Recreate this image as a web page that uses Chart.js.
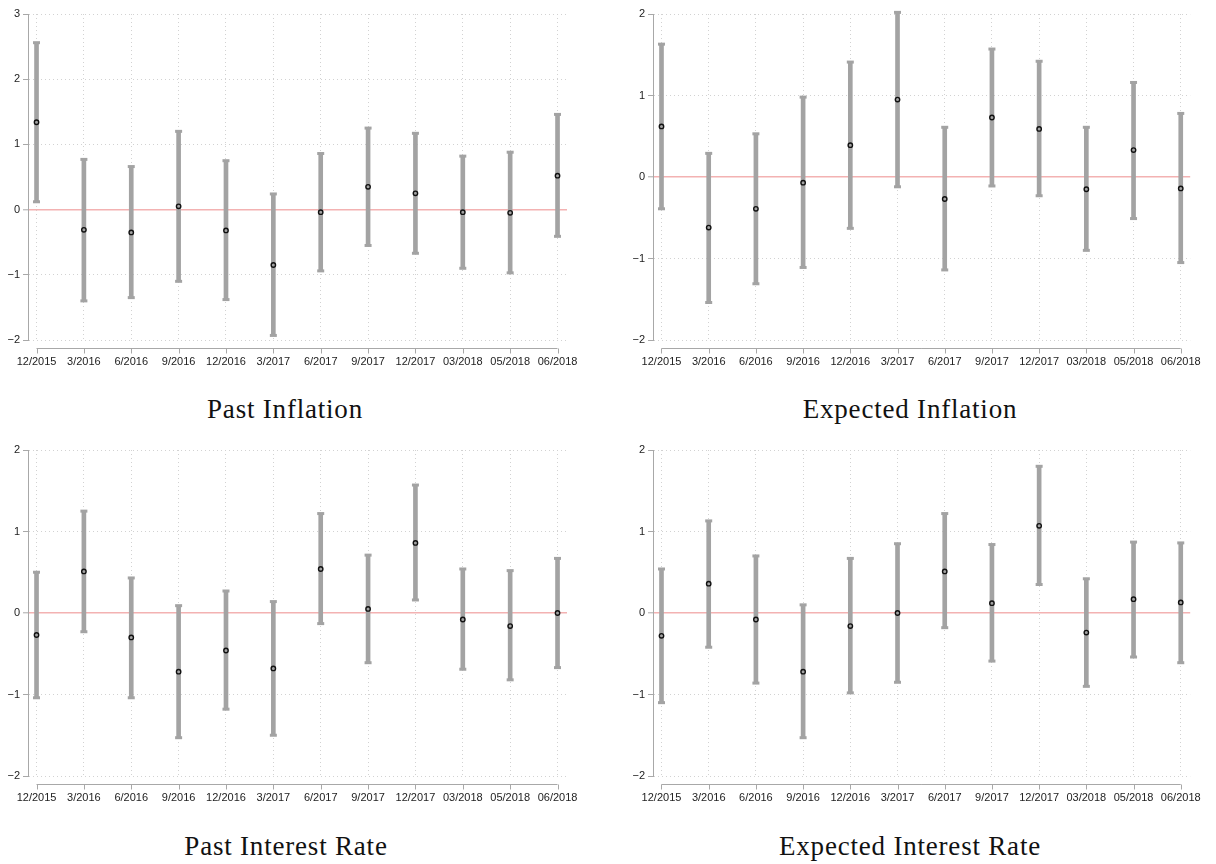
<!DOCTYPE html>
<html>
<head>
<meta charset="utf-8">
<script src="https://cdn.jsdelivr.net/npm/chart.js@4.4.1/dist/chart.umd.min.js"></script>
<style>
  body { margin: 0; background: #fff; }
  #wrap { position: relative; width: 1216px; height: 864px; overflow: hidden; }
  .panel { position: absolute; width: 608px; height: 372px; }
  .ttl { position: absolute; width: 500px; text-align: center; font-family: "Liberation Serif", serif;
         font-size: 27px; line-height: 27px; letter-spacing: 0.8px; color: #111; }
</style>
</head>
<body>
<div id="wrap">
  <div class="panel" style="left:0;top:0"><canvas id="c1"></canvas></div>
  <div class="panel" style="left:608px;top:0"><canvas id="c2"></canvas></div>
  <div class="panel" style="left:0;top:436px"><canvas id="c3"></canvas></div>
  <div class="panel" style="left:608px;top:436px"><canvas id="c4"></canvas></div>
  <div class="ttl" style="left:35px;top:396px">Past Inflation</div>
  <div class="ttl" style="left:660px;top:396px">Expected Inflation</div>
  <div class="ttl" style="left:36px;top:833px">Past Interest Rate</div>
  <div class="ttl" style="left:660px;top:833px">Expected Interest Rate</div>
</div>
<script>
var categories = ["12/2015", "3/2016", "6/2016", "9/2016", "12/2016", "3/2017",
                  "6/2017", "9/2017", "12/2017", "03/2018", "05/2018", "06/2018"];

// Past Inflation
var pastInfl      = [1.34, -0.31, -0.35, 0.05, -0.32, -0.85, -0.04, 0.35, 0.25, -0.04, -0.05, 0.52];
var pastInflLow   = [0.12, -1.40, -1.35, -1.10, -1.38, -1.93, -0.94, -0.55, -0.67, -0.90, -0.97, -0.41];
var pastInflHigh  = [2.56, 0.77, 0.66, 1.20, 0.75, 0.24, 0.86, 1.25, 1.17, 0.82, 0.88, 1.46];

// Expected Inflation
var expInfl       = [0.62, -0.62, -0.39, -0.07, 0.39, 0.95, -0.27, 0.73, 0.59, -0.15, 0.33, -0.14];
var expInflLow    = [-0.39, -1.54, -1.31, -1.11, -0.63, -0.12, -1.14, -0.11, -0.23, -0.90, -0.51, -1.05];
var expInflHigh   = [1.63, 0.29, 0.53, 0.98, 1.41, 2.02, 0.61, 1.57, 1.42, 0.61, 1.16, 0.78];

// Past Interest Rate
var pastRate      = [-0.27, 0.51, -0.30, -0.72, -0.46, -0.68, 0.54, 0.05, 0.86, -0.08, -0.16, 0.00];
var pastRateLow   = [-1.04, -0.23, -1.04, -1.53, -1.18, -1.50, -0.13, -0.61, 0.16, -0.69, -0.82, -0.67];
var pastRateHigh  = [0.50, 1.25, 0.43, 0.09, 0.27, 0.14, 1.22, 0.71, 1.57, 0.54, 0.52, 0.67];

// Expected Interest Rate
var expRate       = [-0.28, 0.36, -0.08, -0.72, -0.16, 0.00, 0.51, 0.12, 1.07, -0.24, 0.17, 0.13];
var expRateLow    = [-1.10, -0.42, -0.86, -1.53, -0.98, -0.85, -0.18, -0.59, 0.35, -0.90, -0.54, -0.61];
var expRateHigh   = [0.54, 1.13, 0.70, 0.10, 0.67, 0.85, 1.22, 0.84, 1.80, 0.42, 0.87, 0.86];

var yTicks3 = [-2, -1, 0, 1, 2, 3];
var yTicks2 = [-2, -1, 0, 1, 2];

var barGrey = '#a3a3a3';
var gridGrey = '#d2d2d2';
var zeroRed = '#f3b2b2';

// stata-like x axis: line only between first and last category, with tick marks
var stataXAxis = {
    id: 'stataXAxis',
    afterDraw: function (chart) {
        var ctx = chart.ctx, xs = chart.scales.x;
        var yl = Math.round(chart.chartArea.bottom) + 8.5;
        var x0 = xs.getPixelForValue(0), x1 = xs.getPixelForValue(categories.length - 1);
        ctx.save();
        ctx.strokeStyle = '#a8a8a8';
        ctx.lineWidth = 1;
        ctx.beginPath();
        ctx.moveTo(x0, yl);
        ctx.lineTo(x1, yl);
        for (var i = 0; i < categories.length; i++) {
            var px = Math.round(xs.getPixelForValue(i)) + 0.5;
            ctx.moveTo(px, yl);
            ctx.lineTo(px, yl + 5);
        }
        ctx.stroke();
        ctx.restore();
    }
};

function isZero(c) { return c.tick && c.tick.value === 0; }

function makePanel(id, mid, low, high, yTicks, padLeft, padRight) {
    var bars = [], caps = [], pts = [];
    for (var i = 0; i < categories.length; i++) {
        bars.push({x: i, y: [low[i], high[i]]});
        caps.push({x: i, y: low[i]});
        caps.push({x: i, y: high[i]});
        pts.push({x: i, y: mid[i]});
    }
    var ctx = document.getElementById(id).getContext('2d');
    return new Chart(ctx, {
        type: 'scatter',
        data: {
            datasets: [{
                type: 'bar',
                data: bars,
                backgroundColor: barGrey,
                borderWidth: 0,
                barThickness: 4,
                clip: false,
                order: 2
            }, {
                data: caps,
                pointStyle: 'line',
                pointRadius: 3.5,
                borderWidth: 3,
                borderColor: barGrey,
                pointHoverRadius: 3.5,
                clip: false,
                order: 1
            }, {
                data: pts,
                pointStyle: 'circle',
                pointRadius: 2.2,
                borderWidth: 1.4,
                borderColor: '#111',
                backgroundColor: barGrey,
                clip: false,
                order: 0
            }]
        },
        options: {
            responsive: false,
            animation: false,
            events: [],
            layout: {padding: {left: padLeft, right: padRight, top: 14, bottom: 0}},
            plugins: {legend: {display: false}, tooltip: {enabled: false}},
            scales: {
                x: {
                    type: 'linear',
                    min: -0.18,
                    max: 11.2,
                    offset: false,
                    afterBuildTicks: function (s) {
                        s.ticks = categories.map(function (c, i) { return {value: i}; });
                    },
                    afterFit: function (s) { s.height = 32; },
                    ticks: {
                        autoSkip: false,
                        maxRotation: 0,
                        padding: 15,
                        color: '#222',
                        font: {family: 'Liberation Sans', size: 11},
                        callback: function (v) { return categories[v]; }
                    },
                    grid: {color: gridGrey, drawTicks: false, offset: false},
                    border: {display: false, dash: [1, 3]}
                },
                y: {
                    min: yTicks[0],
                    max: yTicks[yTicks.length - 1],
                    afterBuildTicks: function (s) {
                        s.ticks = yTicks.map(function (v) { return {value: v}; });
                    },
                    afterFit: function (s) { s.width = 28; },
                    ticks: {
                        padding: 3,
                        color: '#222',
                        font: {family: 'Liberation Sans', size: 11},
                        callback: function (v) { return String(v).replace('-', '\u2212'); }
                    },
                    grid: {
                        color: function (c) { return isZero(c) ? zeroRed : gridGrey; },
                        lineWidth: function (c) { return isZero(c) ? 1.6 : 1; },
                        tickLength: 5,
                        tickColor: '#a8a8a8',
                        tickWidth: 1,
                        tickBorderDash: []
                    },
                    border: {
                        display: true,
                        color: '#a8a8a8',
                        width: 1,
                        dash: function (c) { return isZero(c) ? [] : [1, 3]; }
                    }
                }
            }
        },
        plugins: [stataXAxis]
    });
}

document.querySelectorAll('canvas').forEach(function (c) { c.width = 608; c.height = 372; });

makePanel('c1', pastInfl, pastInflLow, pastInflHigh, yTicks3, 0, 41);
makePanel('c2', expInfl, expInflLow, expInflHigh, yTicks2, 17, 21);
makePanel('c3', pastRate, pastRateLow, pastRateHigh, yTicks2, 0, 41);
makePanel('c4', expRate, expRateLow, expRateHigh, yTicks2, 17, 21);
</script>
</body>
</html>
